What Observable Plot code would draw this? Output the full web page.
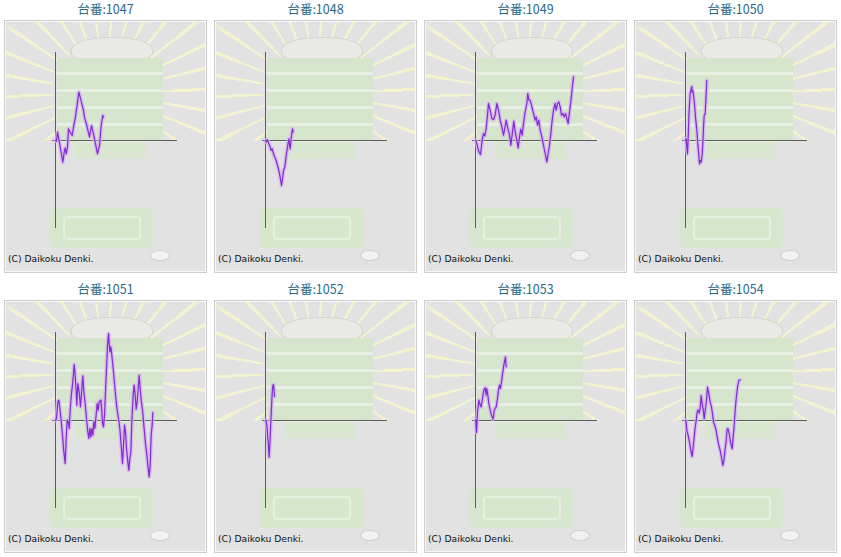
<!DOCTYPE html>
<html>
<head>
<meta charset="utf-8">
<script src="https://cdn.jsdelivr.net/npm/d3@7"></script>
<script src="https://cdn.jsdelivr.net/npm/@observablehq/plot@0.6"></script>
<style>
html,body{margin:0;padding:0;background:#fff;width:841px;height:557px;overflow:hidden}
.panel{position:absolute;width:203px;height:253px}
.title{position:absolute;left:0;top:-19px;width:203px;text-align:center;font:12.5px "Noto Sans CJK JP",sans-serif;color:#2a6a88;line-height:16px;white-space:nowrap}
.bg{position:absolute;left:0;top:0;width:203px;height:253px;box-sizing:border-box;border:1px solid #cdcdcd;box-shadow:inset 0 0 0 1px #f8f8f8;background:#e2e2e2;overflow:hidden}
.rays{position:absolute;left:0;top:0;width:203px;height:120px;
  background:repeating-conic-gradient(from 3deg at 101px 72px, rgba(250,250,200,0.7) 0deg 2deg, rgba(0,0,0,0) 2deg 12deg);
  -webkit-mask-image:radial-gradient(circle at 101px 72px, transparent 50px, #000 56px, #000 112px, transparent 124px);
  mask-image:radial-gradient(circle at 101px 72px, transparent 50px, #000 56px, #000 112px, transparent 124px)}
.coins{position:absolute;left:66px;top:16px;width:80px;height:26px;border-radius:45%;background:#e9e9e5;border:1px solid #d6d6ce}
.stack{position:absolute;left:52px;top:37px;width:106px;height:84px;border-radius:3px;
  background:repeating-linear-gradient(180deg,#d5e6cc 0px,#d5e6cc 14px,#e7f0e2 14px,#e7f0e2 17px)}
.stack2{position:absolute;left:71px;top:121px;width:70px;height:17px;background:#d9e7d1}
.tray{position:absolute;left:44px;top:187px;width:104px;height:40px;border-radius:6px;background:#d7e7ce}
.tray2{position:absolute;left:58px;top:195px;width:74px;height:20px;border-radius:4px;border:2px solid #e6efe0}
.coin{position:absolute;left:145px;top:229px;width:18px;height:9px;border-radius:50%;background:#f2f2f2;border:1px solid #cfcfcf}
.copy{position:absolute;left:4px;top:233px;font:9.2px "DejaVu Sans",sans-serif;color:#111;line-height:12px;white-space:nowrap}
.panel svg{position:absolute;left:0;top:0}
</style>
</head>
<body>
<script>
// Machine numbers (panel titles)
const machines = ["1047", "1048", "1049", "1050", "1051", "1052", "1053", "1054"];

// Each series: [games played, medal difference]
const m1047 = [[0,0],[100,-67],[200,833],[333,167],[533,-1000],[733,-2167],[867,-1167],[967,-733],[1067,-1333],[1200,-667],[1300,1167],[1467,833],[1667,500],[1800,1333],[1967,2167],[2133,3333],[2333,4833],[2467,4333],[2633,3667],[2800,3000],[2900,2333],[3133,1500],[3400,333],[3600,1500],[3800,667],[3967,-167],[4200,-1333],[4400,-500],[4567,1500],[4733,2500],[4800,2333]];
const m1048 = [[0,0],[67,-167],[200,67],[333,-333],[467,-667],[567,-1000],[667,-833],[800,-1333],[933,-1667],[1067,-2000],[1200,-2500],[1333,-3000],[1467,-3667],[1600,-4500],[1700,-3833],[1800,-3000],[1933,-2667],[2067,-1500],[2200,-667],[2333,167],[2467,-833],[2600,500],[2700,1167],[2767,833]];
const m1049 = [[0,0],[67,-67],[200,-633],[367,-1200],[500,-1400],[567,-800],[667,33],[800,700],[933,467],[1067,1200],[1200,2533],[1300,3700],[1467,3033],[1633,2200],[1800,2100],[1967,2533],[2133,3700],[2300,3033],[2467,2033],[2633,1367],[2800,533],[2933,1200],[3067,2033],[3200,1367],[3400,533],[3533,-467],[3700,867],[3833,1933],[3967,867],[4133,33],[4267,-733],[4400,367],[4533,1133],[4667,533],[4800,1700],[4967,2867],[5133,3700],[5233,4700],[5333,4033],[5467,4033],[5600,3533],[5800,2700],[5967,2033],[6067,2367],[6200,1533],[6333,2033],[6467,1033],[6633,367],[6800,-467],[6967,-1300],[7133,-2133],[7267,-1300],[7400,-467],[7533,700],[7667,2033],[7800,3033],[7967,3700],[8067,3033],[8200,3700],[8333,3867],[8467,3367],[8600,2533],[8733,2700],[8867,2367],[9000,2700],[9133,2200],[9267,1700],[9400,2867],[9533,3867],[9667,5200],[9800,6367]];
const m1050 = [[0,0],[67,167],[133,-667],[200,-1333],[267,333],[333,2333],[400,3667],[467,4667],[567,5167],[633,5400],[667,4833],[733,5000],[800,4500],[900,3667],[1000,2333],[1133,1000],[1233,-333],[1333,-1500],[1400,-2333],[1467,-2000],[1567,-2167],[1667,-1333],[1767,333],[1800,1333],[1867,2500],[1967,2667],[2033,4000],[2100,5333],[2133,6000]];
const m1051 = [[0,0],[100,200],[233,1867],[333,2033],[433,1200],[567,33],[700,-1467],[833,-3133],[967,-4300],[1067,-1800],[1167,33],[1267,-133],[1367,-800],[1467,1033],[1600,2700],[1733,3867],[1867,5600],[1967,4533],[2067,2867],[2133,1533],[2233,3700],[2367,2867],[2500,1367],[2633,3200],[2733,4467],[2833,2867],[2967,1700],[3100,200],[3233,-1133],[3333,-1800],[3433,-800],[3533,-1633],[3633,-800],[3733,-1467],[3833,-133],[3933,-800],[4033,200],[4167,1700],[4267,1033],[4367,1867],[4533,2033],[4633,867],[4700,-300],[4800,-633],[4900,533],[5000,2867],[5100,5200],[5200,7533],[5300,8700],[5433,6867],[5533,7367],[5633,6533],[5767,5200],[5900,3700],[6033,2200],[6167,1033],[6300,200],[6433,-800],[6567,-2467],[6700,-4300],[6800,-2467],[6900,-467],[7000,-1133],[7100,-2800],[7233,-4133],[7333,-4967],[7433,-3800],[7533,-3133],[7633,-133],[7767,2533],[7867,3533],[7967,2533],[8067,1133],[8167,1867],[8267,3200],[8367,4533],[8467,3200],[8567,2033],[8700,1033],[8833,-467],[8967,-1967],[9100,-3133],[9233,-4467],[9367,-5633],[9467,-4467],[9567,-1467],[9667,-467],[9733,800]];
const m1052 = [[0,0],[67,0],[167,-833],[267,-2167],[367,-3667],[467,-1667],[567,667],[667,2667],[733,3500],[800,3600],[867,3000],[900,2400]];
const m1053 = [[0,0],[33,33],[100,-1200],[200,867],[333,2033],[467,1533],[567,1367],[700,2200],[833,3033],[967,3267],[1067,2533],[1133,3200],[1233,2533],[1333,1700],[1467,1033],[1600,533],[1733,133],[1800,367],[1867,1033],[1967,1200],[2067,1367],[2200,2200],[2300,3033],[2400,3533],[2500,3200],[2600,3867],[2733,4867],[2833,5533],[2933,6033],[3000,6367],[3067,5367]];
const m1054 = [[0,0],[67,-167],[133,-1000],[267,-1500],[400,-2167],[533,-3000],[667,-3600],[800,-2333],[933,-1000],[1067,0],[1167,833],[1267,1067],[1367,733],[1467,1167],[1567,2500],[1667,1667],[1767,1167],[1867,167],[1967,1000],[2100,2000],[2200,3333],[2333,2667],[2467,1833],[2600,1333],[2700,667],[2800,-167],[2933,-500],[3067,-1000],[3200,-1833],[3333,-2500],[3467,-3000],[3600,-3667],[3733,-4500],[3833,-4000],[3933,-3167],[4067,-2000],[4167,-833],[4267,-833],[4400,-1500],[4533,-2333],[4667,-2833],[4767,-1667],[4867,-500],[4967,1000],[5067,2167],[5200,3333],[5333,4000],[5467,4067]];

// Axis extents (data units)
const gamesExtent = [-300, 12200];
const medalsExtent = [-8800, 8800];
const copyright = "(C) Daikoku Denki.";
const titlePrefix = "台番:";

const seriesById = {"1047": m1047, "1048": m1048, "1049": m1049, "1050": m1050,
                    "1051": m1051, "1052": m1052, "1053": m1053, "1054": m1054};

machines.forEach((id, i) => {
  const col = i % 4, row = Math.floor(i / 4);
  const panel = document.createElement("div");
  panel.className = "panel";
  panel.style.left = (4 + col * 210) + "px";
  panel.style.top = (20 + row * 280) + "px";
  panel.innerHTML = `<div class="title">${titlePrefix}${id}</div>
    <div class="bg"><div class="rays"></div><div class="coins"></div><div class="stack"></div><div class="stack2"></div>
    <div class="tray"></div><div class="tray2"></div><div class="coin"></div></div>
    <div class="copy">${copyright}</div>`;
  const data = seriesById[id].map(([g, d]) => ({g, d}));
  const chart = Plot.plot({
    width: 203, height: 253,
    marginLeft: 51, marginRight: 30, marginTop: 32, marginBottom: 45,
    x: {domain: [0, gamesExtent[1]], axis: null},
    y: {domain: medalsExtent, axis: null},
    style: {background: "transparent", overflow: "visible"},
    marks: [
      Plot.ruleY([{y: 0, x1: gamesExtent[0], x2: gamesExtent[1]}], {y: "y", x1: "x1", x2: "x2", stroke: "#5c5c5c", strokeWidth: 1}),
      Plot.ruleX([{x: 0, y1: medalsExtent[0], y2: medalsExtent[1]}], {x: "x", y1: "y1", y2: "y2", stroke: "#5c5c5c", strokeWidth: 1}),
      Plot.line(data, {x: "g", y: "d", stroke: "#d7b0f2", strokeWidth: 4, strokeOpacity: 0.8, curve: "linear"}),
      Plot.line(data, {x: "g", y: "d", stroke: "#7f2ccc", strokeWidth: 1.2, curve: "linear"})
    ]
  });
  panel.insertBefore(chart, panel.querySelector(".copy"));
  document.body.appendChild(panel);
});
</script>
</body>
</html>
